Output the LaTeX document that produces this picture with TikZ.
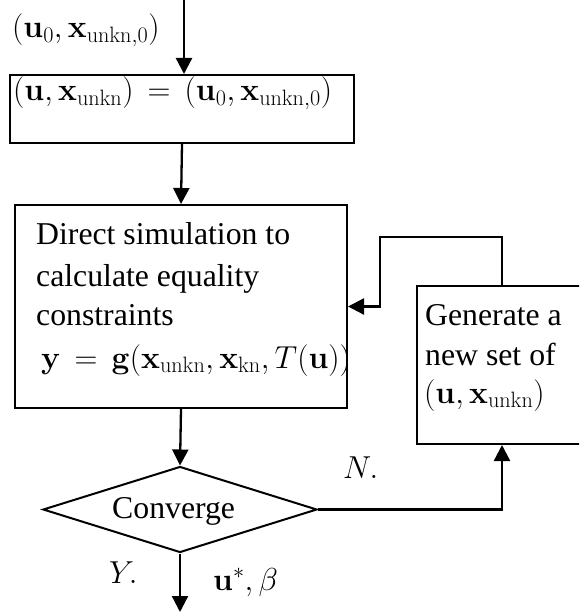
\documentclass[tikz,border=0pt]{standalone}
\usepackage{fix-cm}
\usepackage[no-math]{fontspec}
\setmainfont{Liberation Serif}
\usetikzlibrary{arrows.meta,shapes.geometric}
\tikzset{
  txt/.style={anchor=base west,inner sep=0pt,font=\fontsize{31.75}{38}\selectfont},
  boxnode/.style={draw,line width=2pt,inner sep=0pt,anchor=north west},
  conn/.style={line width=2.3pt,-{Triangle[length=16pt,width=16pt]}}
}
\begin{document}
\begin{tikzpicture}[x=1pt,y=-1pt]
\useasboundingbox (0,0) rectangle (579,615);
\clip (0,0) rectangle (579,615);
% boxes
\node[boxnode,minimum width=344pt,minimum height=68pt] (box1) at (9,74) {};
\node[boxnode,minimum width=332pt,minimum height=203pt] (box2) at (14,204) {};
\node[boxnode,minimum width=170pt,minimum height=158pt] (box3) at (416,285) {};
\node[draw,line width=2pt,shape=diamond,inner sep=0pt,minimum width=274pt,minimum height=86pt] (dec) at (180,509.5) {};
% texts
\node[txt] (lin) at (12,38) {$(\mathbf{u}_0,\mathbf{x}_{\mathrm{unkn},0})$};
\node[txt] (t1) at (13,101) {$(\mathbf{u},\mathbf{x}_{\mathrm{unkn}})\mathrel{\,=\,}(\mathbf{u}_0,\mathbf{x}_{\mathrm{unkn},0})$};
\node[txt] (t2a) at (36,244) {Direct simulation to};
\node[txt] (t2b) at (36,286) {calculate equality};
\node[txt] (t2c) at (36,325) {constraints};
\node[txt] (t2d) at (41,368) {$\mathbf{y}\,=\,\mathbf{g}(\mathbf{x}_{\mathrm{unkn}},\mathbf{x}_{\mathrm{kn}},T(\mathbf{u}))$};
\node[txt] (t3a) at (425,325) {Generate a};
\node[txt] (t3b) at (425,365) {new set of};
\node[txt] (t3c) at (424,403) {$(\mathbf{u},\mathbf{x}_{\mathrm{unkn}})$};
\node[txt] (tc) at (112,518) {Converge};
\node[txt] (tn) at (343,478) {$N.$};
\node[txt] (ty) at (109,583) {$Y.$};
\node[txt] (tu) at (213,590) {$\mathbf{u}^*,\beta$};
% coordinates
\coordinate (in) at (184,-2);
\coordinate (inend) at (184,74);
\coordinate (out) at (dec.south |- 0,612);
\coordinate (fb) at (380,237);
% connectors
\draw[conn] (in) -- (inend);
\draw[conn] (box1.south) -- (box2.north);
\draw[conn] (box2.south) -- (dec.north);
\draw[conn] (dec.south) -- (out);
\draw[conn] (dec.east) -| (box3.south);
\draw[conn] (box3.north) |- (fb) |- (box2.east);
\end{tikzpicture}
\end{document}
